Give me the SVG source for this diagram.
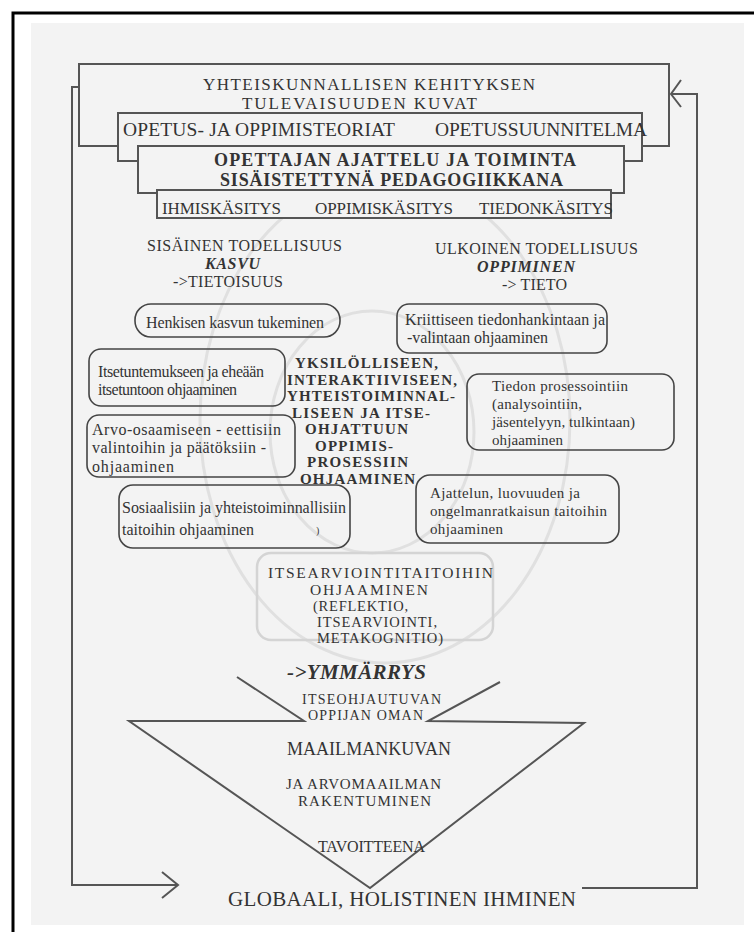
<svg xmlns="http://www.w3.org/2000/svg" width="754" height="932" viewBox="0 0 754 932">
<defs>
<style>
text{font-family:"Liberation Serif","Times New Roman",serif;fill:#333;}
.box{fill:#f3f3f3;stroke:#555;stroke-width:2;}
.rbox{fill:none;stroke:#444;stroke-width:1.6;}
.faint{fill:none;stroke:#e0e0e0;stroke-width:3;}
.line{fill:none;stroke:#555;stroke-width:2;}
.t17{font-size:17px;}
.t16{font-size:16px;}
.t15{font-size:15px;}
.t14{font-size:14.5px;}
.b{font-weight:bold;}
.bi{font-weight:bold;font-style:italic;}
</style>
</defs>
<rect x="0" y="0" width="754" height="932" fill="#ffffff"/>
<rect x="31" y="23" width="713" height="902" fill="#f3f3f3"/>
<path d="M13,932 V13 H754" fill="none" stroke="#000" stroke-width="3"/>

<g id="background-circles">
<ellipse class="faint" cx="385" cy="420" rx="185" ry="243"/>
<ellipse class="faint" cx="372" cy="432" rx="102" ry="121"/>
</g>

<g id="box-yhteiskunnallisen">
<rect class="box" x="79" y="64" width="590" height="82"/>
<text class="t17" x="203" y="90" textLength="332">YHTEISKUNNALLISEN KEHITYKSEN</text>
<text class="t17" x="242" y="109" textLength="235">TULEVAISUUDEN KUVAT</text>
</g>
<g id="box-opetus">
<rect class="box" x="118" y="113" width="524" height="48"/>
<text x="123" y="136" textLength="272" style="font-size:19.5px">OPETUS- JA OPPIMISTEORIAT</text>
<text x="435" y="136" textLength="212" style="font-size:19.5px">OPETUSSUUNNITELMA</text>
</g>
<g id="box-opettajan">
<rect class="box" x="138" y="146" width="486" height="47"/>
<text class="b" x="214" y="166" textLength="362" style="font-size:18px">OPETTAJAN AJATTELU JA TOIMINTA</text>
<text class="b" x="220" y="186" textLength="343" style="font-size:18px">SISÄISTETTYNÄ PEDAGOGIIKKANA</text>
</g>
<g id="box-kasitykset">
<rect class="box" x="157" y="190" width="454" height="28"/>
<text class="t17" x="162" y="214" textLength="119">IHMISKÄSITYS</text>
<text class="t17" x="315" y="214" textLength="138">OPPIMISKÄSITYS</text>
<text class="t17" x="479" y="214" textLength="134">TIEDONKÄSITYS</text>
</g>

<g id="label-sisainen">
<text class="t16" x="147" y="251" textLength="195">SISÄINEN TODELLISUUS</text>
<text class="t16 bi" x="205" y="269" textLength="55">KASVU</text>
<text class="t16" x="173" y="287" textLength="110">-&gt;TIETOISUUS</text>
</g>
<g id="label-ulkoinen">
<text class="t16" x="435" y="254" textLength="203">ULKOINEN TODELLISUUS</text>
<text class="t16 bi" x="477" y="272" textLength="98">OPPIMINEN</text>
<text class="t16" x="502" y="290" textLength="65">-&gt; TIETO</text>
</g>

<g id="node-henkisen">
<rect class="rbox" x="135" y="304" width="205" height="33" rx="16"/>
<text class="t16" x="146" y="328" textLength="178">Henkisen kasvun tukeminen</text>
</g>
<g id="node-kriittiseen">
<rect class="rbox" x="397" y="304" width="210" height="49" rx="12"/>
<text class="t16" x="405" y="325" textLength="200">Kriittiseen tiedonhankintaan ja</text>
<text class="t16" x="407" y="343" textLength="141">-valintaan ohjaaminen</text>
</g>
<g id="node-itsetuntemus">
<rect class="rbox" x="89" y="349" width="196" height="57" rx="12"/>
<text class="t16" x="98" y="377" textLength="166">Itsetuntemukseen ja eheään</text>
<text class="t16" x="98" y="395" textLength="139">itsetuntoon ohjaaminen</text>
</g>
<g id="node-arvo">
<rect class="rbox" x="87" y="415" width="208" height="62" rx="12"/>
<text class="t16" x="92" y="435" textLength="189">Arvo-osaamiseen - eettisiin</text>
<text class="t16" x="92" y="453" textLength="174">valintoihin ja päätöksiin -</text>
<text class="t16" x="92" y="472" textLength="82">ohjaaminen</text>
</g>
<g id="node-sosiaalisiin">
<rect class="rbox" x="119" y="485" width="231" height="63" rx="14"/>
<text class="t16" x="122" y="513" textLength="224">Sosiaalisiin ja yhteistoiminnallisiin</text>
<text class="t16" x="122" y="535" textLength="132">taitoihin ohjaaminen</text>
<text x="316" y="534" style="font-size:10px">)</text>
</g>
<g id="node-tiedon">
<rect class="rbox" x="467" y="374" width="207" height="76" rx="12"/>
<text class="t15" x="492" y="391" textLength="136">Tiedon prosessointiin</text>
<text class="t15" x="492" y="409" textLength="90">(analysointiin,</text>
<text class="t15" x="492" y="427" textLength="143">jäsentelyyn, tulkintaan)</text>
<text class="t15" x="492" y="445" textLength="71">ohjaaminen</text>
</g>
<g id="node-ajattelun">
<rect class="rbox" x="416" y="475" width="203" height="68" rx="14"/>
<text class="t15" x="430" y="498" textLength="150">Ajattelun, luovuuden ja</text>
<text class="t15" x="430" y="516" textLength="177">ongelmanratkaisun taitoihin</text>
<text class="t15" x="430" y="534" textLength="73">ohjaaminen</text>
</g>

<g id="node-center">
<text class="t15 b" x="295" y="368" textLength="143">YKSILÖLLISEEN,</text>
<text class="t15 b" x="287" y="384.5" textLength="170">INTERAKTIIVISEEN,</text>
<text class="t15 b" x="287" y="401" textLength="168">YHTEISTOIMINNAL-</text>
<text class="t15 b" x="292" y="417.5" textLength="138">LISEEN JA ITSE-</text>
<text class="t15 b" x="305" y="434" textLength="103">OHJATTUUN</text>
<text class="t15 b" x="315" y="450.5" textLength="78">OPPIMIS-</text>
<text class="t15 b" x="307" y="467" textLength="101">PROSESSIIN</text>
<text class="t15 b" x="300" y="483.5" textLength="115">OHJAAMINEN</text>
</g>

<g id="node-itsearviointi">
<rect x="257" y="553" width="236" height="87" rx="14" fill="none" stroke="#d4d4d4" stroke-width="2.5"/>
<text x="268" y="578" textLength="225" style="font-size:15.5px">ITSEARVIOINTITAITOIHIN</text>
<text x="310" y="595" textLength="118" style="font-size:15.5px">OHJAAMINEN</text>
<text class="t14" x="313" y="611" textLength="95">(REFLEKTIO,</text>
<text class="t14" x="317" y="627" textLength="120">ITSEARVIOINTI,</text>
<text class="t14" x="317" y="643" textLength="126">METAKOGNITIO)</text>
</g>

<g id="label-ymmarrys">
<text class="bi" x="287" y="679" textLength="139" style="font-size:21px">-&gt;YMMÄRRYS</text>
</g>

<g id="funnel">
<path class="line" d="M237,677 L304,721 L129,721 L370,888 L584,723 L428,721 L500,682"/>
<text x="302" y="704" textLength="139" style="font-size:14px">ITSEOHJAUTUVAN</text>
<text x="308" y="720" textLength="115" style="font-size:14px">OPPIJAN OMAN</text>
<text x="287" y="755" textLength="164" style="font-size:18px">MAAILMANKUVAN</text>
<text class="t15" x="286" y="789" textLength="155">JA ARVOMAAILMAN</text>
<text class="t15" x="298" y="806" textLength="133">RAKENTUMINEN</text>
<text class="t16" x="318" y="852" textLength="107">TAVOITTEENA</text>
</g>

<g id="node-globaali">
<text x="228" y="906" textLength="348" style="font-size:21px">GLOBAALI, HOLISTINEN IHMINEN</text>
</g>

<g id="connectors">
<path class="line" d="M79,87 H72 V885 H178"/>
<path class="line" d="M162,872 L178,885 L162,898"/>
<path class="line" d="M582,888 H697 V94 H671"/>
<path class="line" d="M681,80 L671,94 L681,107"/>
</g>
</svg>
